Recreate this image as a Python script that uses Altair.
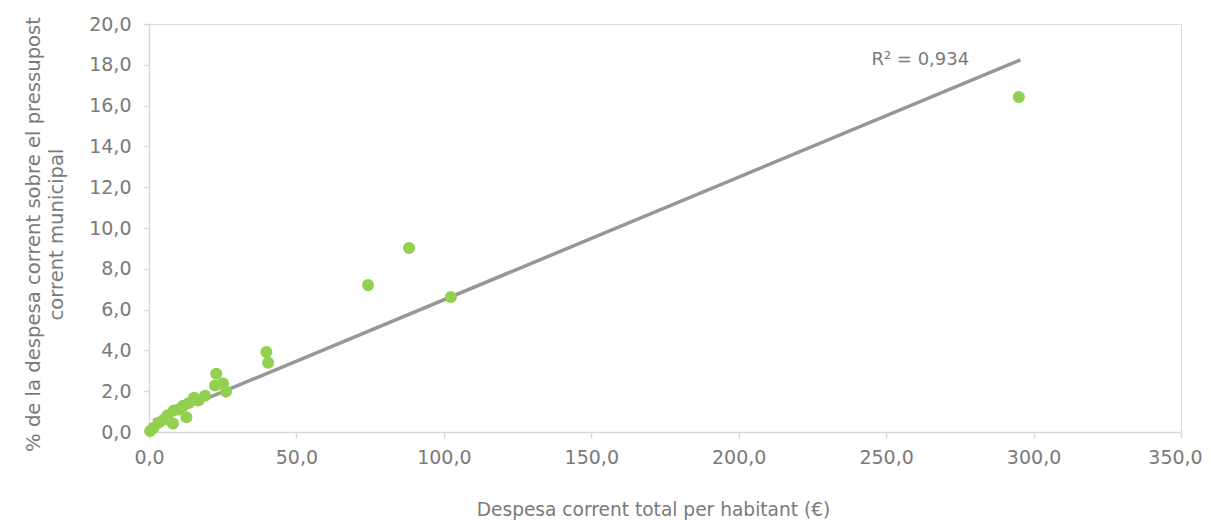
import altair as alt
import pandas as pd

# Data
despesa_hab = [0.4, 1.5, 3.2, 5.0, 6.3, 8.1, 8.4, 10.0, 11.5, 12.7, 13.5, 15.3,
               16.8, 19.0, 22.8, 22.4, 25.1, 26.1, 39.8, 40.4, 74.3, 88.2, 102.4, 295.0]
pct_pressupost = [0.05, 0.2, 0.45, 0.6, 0.82, 0.42, 1.05, 1.1, 1.28, 0.72, 1.42, 1.68,
                  1.55, 1.78, 2.86, 2.28, 2.38, 1.98, 3.92, 3.40, 7.20, 9.02, 6.62, 16.42]
# Linear trendline endpoints as drawn in the reference
trend_x = [1.4, 295.5]
trend_y = [0.55, 18.24]
r2_label = ["R² = 0,934"]
r2_pos_x = [245.0]
r2_pos_y = [18.25]
x_ticks = [0, 50, 100, 150, 200, 250, 300, 350]
y_ticks = [0, 2, 4, 6, 8, 10, 12, 14, 16, 18, 20]

df = pd.DataFrame({"x": despesa_hab, "y": pct_pressupost})
tr = pd.DataFrame({"x": trend_x, "y": trend_y})
lab = pd.DataFrame({"x": r2_pos_x, "y": r2_pos_y, "t": r2_label})

FONT = "DejaVu Sans"
GRAY_TXT = "#7a7a7a"
AXIS_COL = "#d9d9d9"

xscale = alt.Scale(domain=[0, 350], nice=False, zero=True)
yscale = alt.Scale(domain=[0, 20], nice=False, zero=True)

xaxis = alt.Axis(
    values=x_ticks, grid=False, domainColor=AXIS_COL, tickColor=AXIS_COL,
    domainWidth=1.5, tickWidth=1.5, tickSize=6, labelPadding=10, labelFlush=False,
    labelOffset={"condition": {"test": "datum.value >= 350", "value": -6}, "value": 0},
    labelFont=FONT, labelFontSize=19, labelColor=GRAY_TXT,
    labelExpr="replace(format(datum.value, '.1f'), '.', ',')",
    title="Despesa corrent total per habitant (€)",
    titleFont=FONT, titleFontSize=18.6, titleFontWeight="normal", titleColor=GRAY_TXT,
    titleX=504, titleY=77, titleBaseline="middle", titleAnchor="middle",
)
yaxis = alt.Axis(
    values=y_ticks, grid=False, domainColor=AXIS_COL, tickColor=AXIS_COL,
    domainWidth=1.5, tickWidth=1.5, tickSize=6, labelPadding=12, labelFlush=False,
    labelFont=FONT, labelFontSize=19, labelColor=GRAY_TXT,
    labelExpr="replace(format(datum.value, '.1f'), '.', ',')",
    title=["% de la despesa corrent sobre el pressupost", "corrent municipal"],
    titleFont=FONT, titleFontSize=19.6, titleFontWeight="normal", titleColor=GRAY_TXT,
    titleX=-116, titleY=210, titleAngle=270, titleBaseline="middle",
    titleAlign="center", titleLineHeight=23,
)

trend = alt.Chart(tr).mark_line(color="#979797", strokeWidth=3.5).encode(
    x=alt.X("x:Q", scale=xscale, axis=xaxis), y=alt.Y("y:Q", scale=yscale, axis=yaxis)
)

points = alt.Chart(df).mark_point(filled=True, opacity=1, size=145, color="#92D050").encode(
    x=alt.X("x:Q", scale=xscale), y=alt.Y("y:Q", scale=yscale)
)

label = alt.Chart(lab).mark_text(
    align="left", baseline="middle", font=FONT, fontSize=18, color=GRAY_TXT
).encode(x=alt.X("x:Q", scale=xscale), y=alt.Y("y:Q", scale=yscale), text="t:N")

chart = alt.layer(trend, points, label).properties(
    width=1032, height=408,
    autosize=alt.AutoSizeParams(type="none"),
    padding={"left": 141, "top": 16, "right": 22, "bottom": 88},
).configure_view(stroke=None).configure(background="white")

chart.save("out.html", embed_options={"renderer": "svg", "actions": False})
